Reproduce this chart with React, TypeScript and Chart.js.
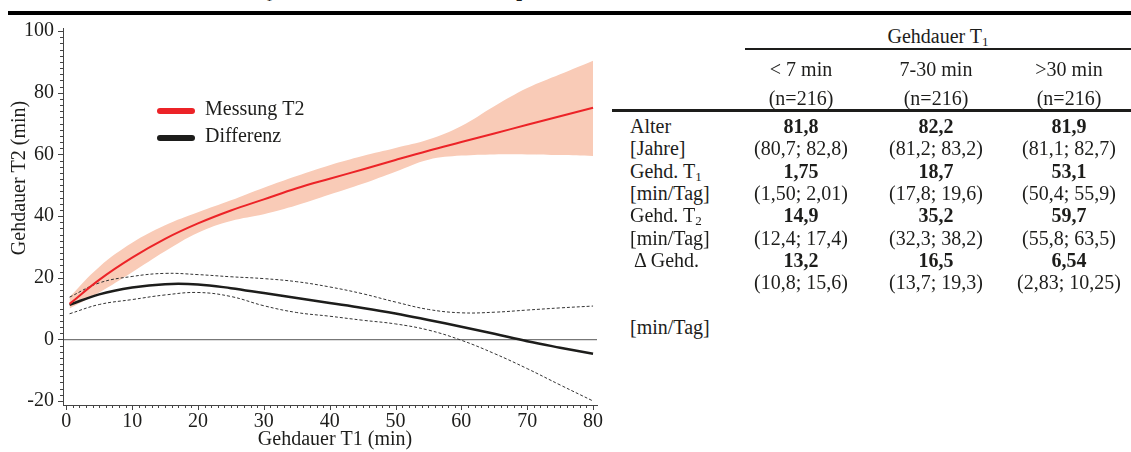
import React, { useEffect, useRef } from "react";
import { Chart, registerables } from "chart.js";

Chart.register(...registerables);

// ---------- chart data ----------
const xValues = [0.5, 5, 10, 15, 20, 25, 30, 35, 40, 45, 50, 55, 60, 65, 70, 75, 80];
const messungT2 = [11.5, 19.3, 26.5, 32.6, 37.6, 41.8, 45.4, 49.0, 52.1, 55.1, 58.2, 61.2, 64.0, 66.8, 69.6, 72.4, 75.1];
const messungUpper = [13.8, 23.5, 31.3, 37.0, 41.2, 45.1, 49.2, 53.0, 56.5, 59.5, 62.1, 64.8, 69.2, 75.6, 81.5, 86.0, 90.4];
const messungLower = [10.0, 15.2, 21.8, 28.6, 34.6, 38.4, 40.6, 43.5, 47.0, 50.5, 54.4, 58.3, 59.6, 60.0, 60.0, 59.8, 59.5];
const differenz = [11.2, 14.6, 16.8, 17.9, 17.8, 16.6, 15.0, 13.4, 11.8, 10.2, 8.4, 6.3, 4.1, 1.8, -0.6, -2.7, -4.7];
const diffUpper = [13.7, 18.3, 20.4, 21.4, 21.0, 20.3, 19.7, 18.7, 17.0, 14.8, 12.1, 9.7, 8.6, 8.8, 9.5, 10.2, 10.8];
const diffLower = [8.3, 11.3, 12.9, 14.4, 15.2, 13.9, 10.9, 8.7, 7.5, 6.2, 5.0, 3.0, -0.3, -4.6, -9.5, -14.8, -20.0];

const xTicks = [0, 10, 20, 30, 40, 50, 60, 70, 80];
const yTicks = [-20, 0, 20, 40, 60, 80, 100];
const xTitle = "Gehdauer T1 (min)";
const yTitle = "Gehdauer T2 (min)";
const legendLabels = ["Messung T2", "Differenz"];

// ---------- table data ----------
const groupLabels = ["< 7 min", "7-30 min", ">30 min"];
const groupN = ["(n=216)", "(n=216)", "(n=216)"];
const ageMean = ["81,8", "82,2", "81,9"];
const ageCI = ["(80,7; 82,8)", "(81,2; 83,2)", "(81,1; 82,7)"];
const t1Mean = ["1,75", "18,7", "53,1"];
const t1CI = ["(1,50; 2,01)", "(17,8; 19,6)", "(50,4; 55,9)"];
const t2Mean = ["14,9", "35,2", "59,7"];
const t2CI = ["(12,4; 17,4)", "(32,3; 38,2)", "(55,8; 63,5)"];
const deltaMean = ["13,2", "16,5", "6,54"];
const deltaCI = ["(10,8; 15,6)", "(13,7; 19,3)", "(2,83; 10,25)"];

const RED = "#ec2327";
const BAND = "#f9cbb7";
const INK = "#1d1d1b";
const FONT = '"Liberation Serif", "Times New Roman", serif';
const TENSION = 0.4;

const pts = (ys: number[]) => xValues.map((x, i) => ({ x, y: ys[i] }));

const decorPlugin = {
  id: "decor",
  afterDraw(chart: any) {
    const { ctx, scales } = chart;
    const x = scales.x;
    const y = scales.y;
    ctx.save();
    ctx.strokeStyle = "#444";
    ctx.lineWidth = 1;
    ctx.beginPath();
    for (let v = -20; v <= 100; v += 2) {
      const py = Math.round(y.getPixelForValue(v)) + 0.5;
      const len = v % 20 === 0 ? 5 : 3;
      ctx.moveTo(x.left - len, py);
      ctx.lineTo(x.left, py);
    }
    for (let v = 0; v <= 80; v += 1) {
      const px = Math.round(x.getPixelForValue(v)) + 0.5;
      const len = v % 10 === 0 ? 5 : 3;
      ctx.moveTo(px, y.bottom);
      ctx.lineTo(px, y.bottom + len);
    }
    ctx.stroke();

    ctx.fillStyle = INK;
    ctx.font = `20px ${FONT}`;
    ctx.textAlign = "center";
    ctx.textBaseline = "middle";
    ctx.fillText(xTitle, 335, 440);
    ctx.save();
    ctx.translate(20, 178);
    ctx.rotate(-Math.PI / 2);
    ctx.fillText(yTitle, 0, 0);
    ctx.restore();

    // legend
    const colors = [RED, INK];
    ctx.lineCap = "round";
    ctx.lineWidth = 6;
    ctx.textAlign = "left";
    legendLabels.forEach((lab, i) => {
      const cy = 111 + i * 27;
      ctx.strokeStyle = colors[i];
      ctx.beginPath();
      ctx.moveTo(160, cy);
      ctx.lineTo(192, cy);
      ctx.stroke();
      ctx.fillText(lab, 205, cy - 1);
    });
    ctx.restore();
  },
};

function ChartView() {
  const ref = useRef<HTMLCanvasElement | null>(null);
  useEffect(() => {
    if (!ref.current) return;
    const chart = new Chart(ref.current, {
      type: "line",
      data: {
        datasets: [
          { label: "Messung T2", data: pts(messungT2), borderColor: RED, borderWidth: 2, pointRadius: 0, fill: false, tension: TENSION },
          { label: "Differenz", data: pts(differenz), borderColor: INK, borderWidth: 2.5, pointRadius: 0, fill: false, tension: TENSION },
          { label: "Diff oben", data: pts(diffUpper), borderColor: "#333", borderWidth: 1, borderDash: [3, 2], pointRadius: 0, fill: false, tension: TENSION },
          { label: "Diff unten", data: pts(diffLower), borderColor: "#333", borderWidth: 1, borderDash: [3, 2], pointRadius: 0, fill: false, tension: TENSION },
          { label: "Band oben", data: pts(messungUpper), borderColor: "rgba(0,0,0,0)", borderWidth: 0, pointRadius: 0, backgroundColor: BAND, fill: "+1", tension: TENSION },
          { label: "Band unten", data: pts(messungLower), borderColor: "rgba(0,0,0,0)", borderWidth: 0, pointRadius: 0, fill: false, tension: TENSION },
        ],
      },
      options: {
        animation: false,
        responsive: false,
        maintainAspectRatio: false,
        devicePixelRatio: 1,
        layout: { padding: { top: 28, right: 23, left: 0, bottom: 0 } },
        plugins: { legend: { display: false }, tooltip: { enabled: false } },
        scales: {
          x: {
            type: "linear",
            min: -0.5,
            max: 80.6,
            afterBuildTicks: (s: any) => { s.ticks = xTicks.map((v) => ({ value: v })); },
            afterFit: (s: any) => { s.height = 47; },
            ticks: { font: { family: FONT, size: 20 }, color: INK, padding: 5, maxRotation: 0, autoSkip: false },
            grid: { display: true, drawOnChartArea: false, drawTicks: false },
            border: { display: true, color: "#444", width: 1 },
          },
          y: {
            type: "linear",
            min: -21.3,
            max: 101,
            afterBuildTicks: (s: any) => { s.ticks = yTicks.map((v) => ({ value: v })); },
            afterFit: (s: any) => { s.width = 63; },
            ticks: { font: { family: FONT, size: 20 }, color: INK, padding: 9, autoSkip: false },
            grid: {
              display: true,
              drawOnChartArea: true,
              drawTicks: false,
              color: (c: any) => (c.tick && c.tick.value === 0 ? "#777" : "rgba(0,0,0,0)"),
              lineWidth: 1.2,
            },
            border: { display: true, color: "#444", width: 1 },
          },
        },
      },
      plugins: [decorPlugin],
    } as any);
    return () => chart.destroy();
  }, []);
  return (
    <canvas
      ref={ref}
      width={620}
      height={452}
      style={{ position: "absolute", left: 0, top: 0, width: 620, height: 452 }}
    />
  );
}

const colCenters = [801, 936, 1069];
const ROW0 = 126;
const ROWH = 22.3;

function Cells({ values, cy, bold }: { values: string[]; cy: number; bold?: boolean }) {
  return (
    <>
      {values.map((v, i) => (
        <div
          key={i}
          style={{
            position: "absolute",
            left: colCenters[i] - 70,
            width: 140,
            top: cy - 11,
            height: 22,
            lineHeight: "22px",
            textAlign: "center",
            fontWeight: bold ? "bold" : "normal",
            whiteSpace: "nowrap",
          }}
        >
          {v}
        </div>
      ))}
    </>
  );
}

function Label({ cy, children, left = 630 }: { cy: number; children: React.ReactNode; left?: number }) {
  return (
    <div style={{ position: "absolute", left, top: cy - 11, height: 22, lineHeight: "22px", whiteSpace: "nowrap" }}>
      {children}
    </div>
  );
}

const sub: React.CSSProperties = { fontSize: 13, verticalAlign: "-3px", lineHeight: 0 };

function Table() {
  const r = (i: number) => ROW0 + ROWH * i;
  return (
    <>
      <div style={{ position: "absolute", left: 745, width: 386, top: 25, height: 22, lineHeight: "22px", textAlign: "center" }}>
        Gehdauer T<span style={sub}>1</span>
      </div>
      <div style={{ position: "absolute", left: 745, width: 386, top: 48, height: 1.5, background: INK }} />
      <Cells values={groupLabels} cy={69} />
      <Cells values={groupN} cy={98} />
      <div style={{ position: "absolute", left: 612, width: 519, top: 109, height: 3, background: INK }} />

      <Label cy={r(0)}>Alter</Label>
      <Cells values={ageMean} cy={r(0)} bold />
      <Label cy={r(1)}>[Jahre]</Label>
      <Cells values={ageCI} cy={r(1)} />
      <Label cy={r(2)}>Gehd. T<span style={sub}>1</span></Label>
      <Cells values={t1Mean} cy={r(2)} bold />
      <Label cy={r(3)}>[min/Tag]</Label>
      <Cells values={t1CI} cy={r(3)} />
      <Label cy={r(4)}>Gehd. T<span style={sub}>2</span></Label>
      <Cells values={t2Mean} cy={r(4)} bold />
      <Label cy={r(5)}>[min/Tag]</Label>
      <Cells values={t2CI} cy={r(5)} />
      <Label cy={r(6)} left={634}>Δ Gehd.</Label>
      <Cells values={deltaMean} cy={r(6)} bold />
      <Cells values={deltaCI} cy={r(7)} />
      <Label cy={r(9)}>[min/Tag]</Label>
    </>
  );
}

export default function App() {
  return (
    <div
      style={{
        position: "absolute",
        left: 0,
        top: 0,
        width: 1131,
        height: 452,
        overflow: "hidden",
        background: "#fff",
        fontFamily: FONT,
        fontSize: 20,
        color: INK,
      }}
    >
      <div style={{ position: "absolute", left: 266, top: -11, fontSize: 13, lineHeight: "16px" }}>1</div>
      <div style={{ position: "absolute", left: 516, top: -11, fontSize: 13, lineHeight: "16px" }}>2</div>
      <div style={{ position: "absolute", left: 8, right: 0, top: 11, height: 4, background: "#000" }} />
      <ChartView />
      <Table />
    </div>
  );
}
